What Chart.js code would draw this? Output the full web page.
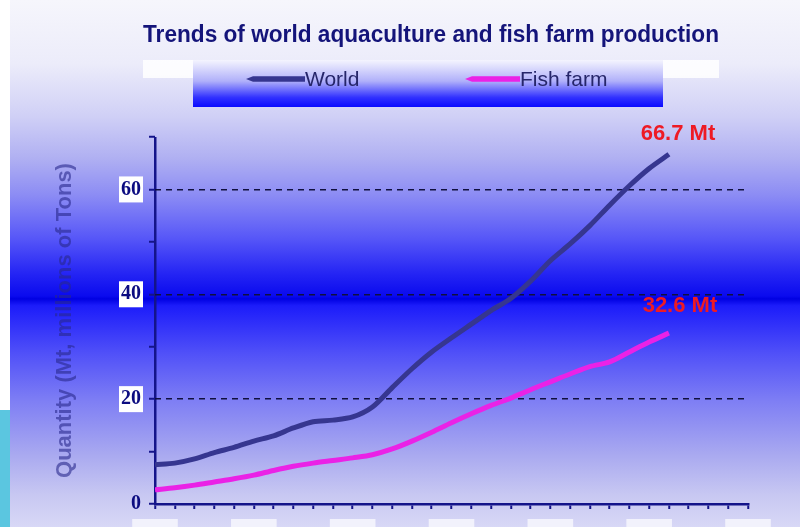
<!DOCTYPE html>
<html>
<head>
<meta charset="utf-8">
<title>Trends of world aquaculture and fish farm production</title>
<script src="https://cdn.jsdelivr.net/npm/chart.js@4.4.1/dist/chart.umd.min.js"></script>
<style>
  html, body { margin: 0; padding: 0; background: #fff; }
  canvas { display: block; }
</style>
</head>
<body>
<canvas id="chart" width="800" height="527"></canvas>
<script>
// production in millions of tonnes, one value per year
const years = [1980, 1981, 1982, 1983, 1984, 1985, 1986, 1987, 1988, 1989,
               1990, 1991, 1992, 1993, 1994, 1995, 1996, 1997, 1998, 1999,
               2000, 2001, 2002, 2003, 2004, 2005, 2006];
const world = [7.5, 7.8, 8.6, 9.8, 10.8, 12.0, 13.0, 14.5, 15.7, 16.0,
               16.6, 18.5, 22.2, 25.8, 29.0, 31.7, 34.3, 36.9, 39.2, 42.5,
               46.4, 49.6, 53.1, 57.0, 60.7, 64.0, 66.7];
const fishFarm = [2.7, 3.1, 3.6, 4.2, 4.8, 5.5, 6.4, 7.2, 7.8, 8.3,
                  8.8, 9.4, 10.5, 12.0, 13.7, 15.5, 17.2, 18.8, 20.2, 21.8,
                  23.3, 24.8, 26.2, 27.1, 29.0, 30.9, 32.6];
const seriesNames = ['World', 'Fish farm'];
const yLabelled = [20, 40, 60];
const xLabelEvery = 5;

const axisColor = '#14148a';
const pts = arr => years.map((yr, i) => ({ x: yr, y: arr[i] }));

// page background, heading and the legend panel
const backdrop = {
  id: 'backdrop',
  beforeDraw(chart) {
    const { ctx, width, height } = chart;
    ctx.save();
    ctx.fillStyle = '#fff';
    ctx.fillRect(0, 0, width, height);

    const g = ctx.createLinearGradient(0, 0, 0, height);
    g.addColorStop(0, '#f6f6fc');
    g.addColorStop(0.12, '#ececfa');
    g.addColorStop(0.22, '#d0d0f6');
    g.addColorStop(0.30, '#b0b0f2');
    g.addColorStop(0.37, '#8c8cf4');
    g.addColorStop(0.45, '#5858f8');
    g.addColorStop(0.52, '#2424f4');
    g.addColorStop(0.562, '#0a0aee');
    g.addColorStop(0.567, '#0000e2');
    g.addColorStop(0.58, '#1c1cfa');
    g.addColorStop(0.67, '#5050f8');
    g.addColorStop(0.76, '#7e7ef4');
    g.addColorStop(0.86, '#a8a8f0');
    g.addColorStop(0.94, '#c8c8f2');
    g.addColorStop(1, '#d8d8f6');
    ctx.fillStyle = g;
    ctx.fillRect(10, 0, width - 10, height);

    ctx.fillStyle = '#5bc6e0';
    ctx.fillRect(0, 410, 10, height - 410);

    // heading, squeezed to the width of the band under it
    ctx.font = 'bold 23px Arial, "Liberation Sans", sans-serif';
    ctx.fillStyle = '#14147a';
    ctx.textAlign = 'center';
    ctx.textBaseline = 'alphabetic';
    const heading = 'Trends of world aquaculture and fish farm production';
    const sx = 576 / ctx.measureText(heading).width;
    ctx.save();
    ctx.translate(431, 42);
    ctx.scale(sx, 1);
    ctx.fillText(heading, 0, 0);
    ctx.restore();

    ctx.fillStyle = 'rgba(255,255,255,0.85)';
    ctx.fillRect(143, 60, 576, 18);

    // legend panel
    const lg = ctx.createLinearGradient(0, 60, 0, 107);
    lg.addColorStop(0, '#f4f4fe');
    lg.addColorStop(0.45, '#b0b0fa');
    lg.addColorStop(0.8, '#3030ff');
    lg.addColorStop(1, '#0a0aff');
    ctx.fillStyle = lg;
    ctx.fillRect(193, 60, 470, 47);

    const items = [[246, 305], [465, 520]];
    ctx.font = '21px Arial, "Liberation Sans", sans-serif';
    ctx.textAlign = 'left';
    ctx.textBaseline = 'middle';
    chart.data.datasets.forEach((ds, i) => {
      const [x0, x1] = items[i];
      const y = 79;
      ctx.fillStyle = ds.borderColor;
      ctx.beginPath();
      ctx.moveTo(x0, y);
      ctx.lineTo(x0 + 7, y - 2.8);
      ctx.lineTo(x1, y - 2.8);
      ctx.lineTo(x1, y + 2.8);
      ctx.lineTo(x0 + 7, y + 2.8);
      ctx.closePath();
      ctx.fill();
      ctx.fillStyle = '#26266a';
      ctx.fillText(ds.label, x1, y + 1);
    });
    ctx.restore();
  }
};

// value tags at the end of each series
const tagOffsets = [[9, -20], [11, -27]];
const endTags = {
  id: 'endTags',
  afterDatasetsDraw(chart) {
    const { ctx } = chart;
    ctx.save();
    ctx.font = 'bold 22px Arial, "Liberation Sans", sans-serif';
    ctx.fillStyle = '#ee1a24';
    ctx.textAlign = 'center';
    ctx.textBaseline = 'middle';
    chart.data.datasets.forEach((ds, i) => {
      const meta = chart.getDatasetMeta(i);
      const el = meta.data[meta.data.length - 1];
      const v = ds.data[ds.data.length - 1].y;
      ctx.fillText(v.toFixed(1) + ' Mt', el.x + tagOffsets[i][0], el.y + tagOffsets[i][1]);
    });
    ctx.restore();
  }
};

new Chart(document.getElementById('chart'), {
  type: 'line',
  data: {
    datasets: [
      {
        label: seriesNames[0],
        data: pts(world),
        borderColor: '#363690',
        borderWidth: 5,
        pointRadius: 0,
        tension: 0.3
      },
      {
        label: seriesNames[1],
        data: pts(fishFarm),
        borderColor: '#ea22e6',
        borderWidth: 5,
        pointRadius: 0,
        tension: 0.3
      }
    ]
  },
  options: {
    responsive: false,
    animation: false,
    layout: { padding: { left: 52, right: 52, top: 137, bottom: 0 } },
    plugins: {
      legend: { display: false },
      tooltip: { enabled: false }
    },
    scales: {
      x: {
        type: 'linear',
        min: years[0],
        max: 2010,
        ticks: {
          stepSize: 1,
          autoSkip: false,
          maxRotation: 0,
          padding: 18,
          callback: v => v % xLabelEvery === 0 ? String(v) : '',
          font: { family: 'Arial, "Liberation Sans", sans-serif', size: 16, weight: 'bold' },
          color: '#1a1a80',
          showLabelBackdrop: true,
          backdropColor: c => c.tick.value % xLabelEvery === 0 ? '#f2f2fc' : 'rgba(0,0,0,0)',
          backdropPadding: { top: 8, bottom: 4, left: 5, right: 5 }
        },
        // the only visible x grid line is the first one, which stands in for the solid y axis
        grid: {
          color: c => c.tick.value === years[0] ? axisColor : 'rgba(0,0,0,0)',
          lineWidth: 2.5,
          tickLength: 5,
          tickColor: axisColor,
          tickWidth: 2
        },
        border: { color: axisColor, width: 2.5 },
        afterFit(s) { s.height = 23; s.paddingLeft = 0; s.paddingRight = 0; }
      },
      y: {
        min: 0,
        max: 70,
        ticks: {
          stepSize: 10,
          padding: 8,
          callback: v => v === 0 || yLabelled.includes(v) ? String(v) : '',
          font: { family: '"Liberation Serif", "Times New Roman", serif', size: 20, weight: 'bold' },
          color: '#0c0c80',
          showLabelBackdrop: true,
          backdropColor: c => yLabelled.includes(c.tick.value) ? '#ffffff' : 'rgba(0,0,0,0)',
          backdropPadding: { top: 1, bottom: 1, left: 2, right: 2 }
        },
        grid: {
          color: c => yLabelled.includes(c.tick.value) ? '#10103e' : 'rgba(0,0,0,0)',
          lineWidth: 1.5,
          tickLength: 6,
          tickColor: axisColor,
          tickWidth: 2
        },
        border: { display: false, dash: [6, 5] },
        title: {
          display: true,
          text: 'Quantity (Mt, millions of Tons)',
          color: 'rgba(40,40,140,0.6)',
          font: { family: 'Arial, "Liberation Sans", sans-serif', size: 22, weight: 'bold' },
          padding: { top: 0, bottom: 0 }
        },
        afterFit(s) { s.width = 103; s.paddingTop = 0; s.paddingBottom = 0; }
      }
    }
  },
  plugins: [backdrop, endTags]
});
</script>
</body>
</html>
